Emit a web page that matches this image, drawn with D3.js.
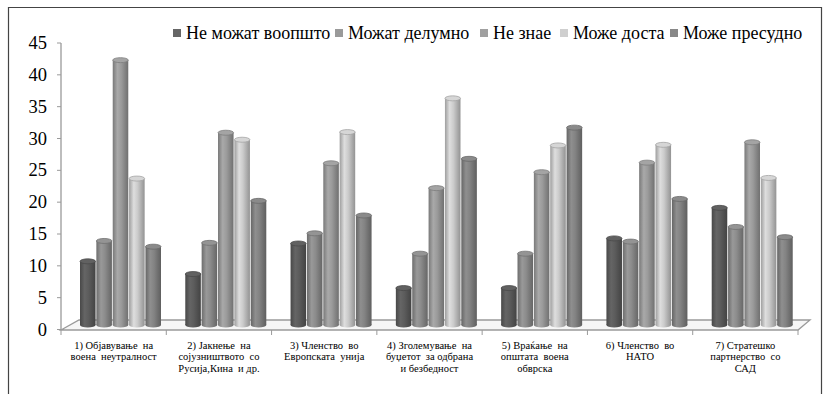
<!DOCTYPE html>
<html>
<head>
<meta charset="utf-8">
<script src="https://cdn.jsdelivr.net/npm/d3@7"></script>
</head>
<body style="margin:0">
<svg id="fig" width="824" height="394"></svg>
<script>
// data
var categories = [
  ["1) Објавување  на", "воена  неутралност"],
  ["2) Јакнење  на", "сојузништвото  со", "Русија,Кина  и др."],
  ["3) Членство  во", "Европската  унија"],
  ["4) Зголемување  на", "буџетот  за одбрана", "и безбедност"],
  ["5) Враќање  на", "општата  воена", "обврска"],
  ["6) Членство  во", "НАТО"],
  ["7) Стратешко", "партнерство  со", "САД"]
];
var seriesNames = ["Не можат воопшто", "Можат делумно", "Не знае", "Може доста", "Може пресудно"];
var neMozat   = [10, 8.0, 12.8, 5.8, 5.8, 13.6, 18.4];
var delumno   = [13.2, 12.9, 14.4, 11.2, 11.2, 13.1, 15.4];
var neZnae    = [41.6, 30.2, 25.4, 21.5, 24.0, 25.5, 28.7];
var dosta     = [23.0, 29.1, 30.3, 35.6, 28.2, 28.3, 23.1];
var presudno  = [12.3, 19.5, 17.2, 26.1, 31.0, 19.8, 13.8];
var yTicks = [0, 5, 10, 15, 20, 25, 30, 35, 40, 45];

var seriesValues = [neMozat, delumno, neZnae, dosta, presudno];
var baseColors = ["#5c5c5c", "#8c8c8c", "#9b9b9b", "#cbcbcb", "#838383"];
var legendColors = ["#666", "#9a9a9a", "#a0a0a0", "#cfcfcf", "#888"];
var fontName = "Liberation Serif";

var svg = d3.select("#fig");

function serifText(sel, size) {
  return sel.style("font-family", function() { return "'" + fontName + "'"; })
      .style("font-size", size + "px");
}

// outer frame
svg.append("path")
    .attr("d", "M8.5,400 V7.5 H821.5 V400")
    .attr("fill", "none")
    .attr("stroke", "#444")
    .attr("stroke-width", 1.2);

// scales
var y = d3.scaleLinear().domain([0, 45]).range([329.5, 43]);
var x = d3.scaleBand().domain(d3.range(categories.length)).range([61, 798]);
var xInner = d3.scaleBand().domain(d3.range(seriesNames.length)).range([19, 100]).paddingInner(0.05);
var depthY = 4.5; // bars stand in the middle of the floor

// gradients for cylinders
var defs = svg.append("defs");
baseColors.forEach(function(c, i) {
  var g = defs.append("linearGradient").attr("id", "cyl" + i)
      .attr("x1", "0%").attr("x2", "100%").attr("y1", "0%").attr("y2", "0%");
  var col = d3.color(c);
  g.append("stop").attr("offset", "0%").attr("stop-color", col.darker(0.7));
  g.append("stop").attr("offset", "30%").attr("stop-color", col.brighter(0.25));
  g.append("stop").attr("offset", "55%").attr("stop-color", col);
  g.append("stop").attr("offset", "100%").attr("stop-color", col.darker(0.9));
});

// floor
svg.append("path")
    .attr("d", "M61,330 L79,320 L810,320 L798,330 Z")
    .attr("fill", "#f6f6f6")
    .attr("stroke", "#9a9a9a")
    .attr("stroke-width", 1.3);

// y axis
svg.append("line")
    .attr("x1", 61).attr("x2", 61)
    .attr("y1", y(45)).attr("y2", 330)
    .attr("stroke", "#9a9a9a").attr("stroke-width", 1.3);
var yAxis = svg.append("g");
yAxis.selectAll("line").data(yTicks).enter().append("line")
    .attr("x1", 57).attr("x2", 61)
    .attr("y1", function(d) { return y(d); }).attr("y2", function(d) { return y(d); })
    .attr("stroke", "#9a9a9a");
yAxis.selectAll("text").data(yTicks).enter().append("text")
    .attr("x", 47).attr("y", function(d) { return y(d) + 6; })
    .attr("text-anchor", "end")
    .call(serifText, 18.5)
    .text(function(d) { return d; });

// category ticks
svg.selectAll("line.ctick").data(d3.range(categories.length + 1)).enter().append("line")
    .attr("class", "ctick")
    .attr("x1", function(d) { return 61 + d * x.bandwidth(); })
    .attr("x2", function(d) { return 61 + d * x.bandwidth(); })
    .attr("y1", 330).attr("y2", 335)
    .attr("stroke", "#9a9a9a");

// cylinders
var groups = svg.selectAll("g.cat").data(categories).enter().append("g")
    .attr("class", "cat")
    .attr("transform", function(d, i) { return "translate(" + x(i) + ",0)"; });

var bw = xInner.bandwidth();
groups.each(function(cat, ci) {
  var g = d3.select(this);
  seriesValues.forEach(function(vals, si) {
    var v = vals[ci];
    var x0 = xInner(si);
    var top = y(v) - depthY;
    var bottom = y(0) - depthY;
    var cx = x0 + bw / 2;
    var col = d3.color(baseColors[si]);
    g.append("ellipse")
        .attr("cx", cx).attr("cy", bottom)
        .attr("rx", bw / 2).attr("ry", 2.5)
        .attr("fill", "url(#cyl" + si + ")");
    g.append("rect")
        .attr("x", x0).attr("y", top)
        .attr("width", bw).attr("height", bottom - top)
        .attr("fill", "url(#cyl" + si + ")");
    g.append("ellipse")
        .attr("cx", cx).attr("cy", top)
        .attr("rx", bw / 2).attr("ry", 2.5)
        .attr("fill", col.brighter(0.15))
        .attr("stroke", col.darker(0.6))
        .attr("stroke-width", 0.8);
  });
});

// category labels, one text per line
groups.each(function(cat, ci) {
  d3.select(this).selectAll("text").data(cat).enter().append("text")
      .attr("x", x.bandwidth() / 2)
      .attr("y", function(d, li) { return 349 + li * 11.3; })
      .attr("text-anchor", "middle")
      .call(serifText, 10.5)
      .style("white-space", "pre")
      .text(function(d) { return d; });
});

// legend
var legendX = [173, 335, 480, 560, 670];
var legend = svg.selectAll("g.legend").data(seriesNames).enter().append("g")
    .attr("class", "legend")
    .attr("transform", function(d, i) { return "translate(" + legendX[i] + ",27)"; });
legend.append("rect")
    .attr("width", 8).attr("height", 8).attr("y", 2)
    .attr("fill", function(d, i) { return legendColors[i]; });
legend.append("text")
    .attr("x", 13).attr("y", 12)
    .call(serifText, 18)
    .text(function(d) { return d; });
</script>
</body>
</html>
